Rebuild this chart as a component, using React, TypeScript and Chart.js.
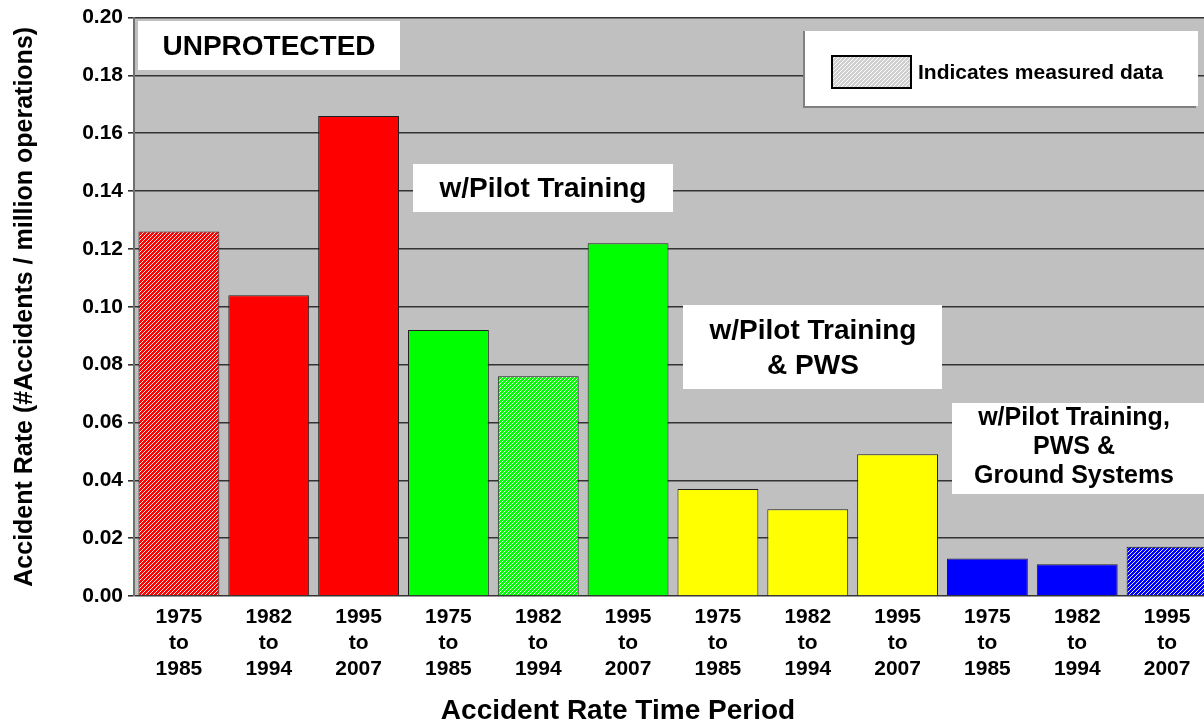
import React, { useEffect, useRef } from "react";
import { Chart, registerables } from "chart.js";

Chart.register(...registerables);

const periods: string[][] = [
  ["1975", "to", "1985"], ["1982", "to", "1994"], ["1995", "to", "2007"],
  ["1975", "to", "1985"], ["1982", "to", "1994"], ["1995", "to", "2007"],
  ["1975", "to", "1985"], ["1982", "to", "1994"], ["1995", "to", "2007"],
  ["1975", "to", "1985"], ["1982", "to", "1994"], ["1995", "to", "2007"],
];
const accidentRates = [0.126, 0.104, 0.166, 0.092, 0.076, 0.122, 0.037, 0.030, 0.049, 0.013, 0.011, 0.017];
const barColors = [
  "#ff0000", "#ff0000", "#ff0000",
  "#00ff00", "#00ff00", "#00ff00",
  "#ffff00", "#ffff00", "#ffff00",
  "#0000ff", "#0000ff", "#0000ff",
];
const measured = [true, false, false, false, true, false, false, false, false, false, false, true];
const yTicks = [0, 0.02, 0.04, 0.06, 0.08, 0.1, 0.12, 0.14, 0.16, 0.18, 0.2];
const xTitle = "Accident Rate Time Period";
const yTitle = "Accident Rate (#Accidents / million operations)";

const FONT = "'Liberation Sans', Arial, sans-serif";

function hatch(color: string): CanvasPattern | string {
  const c = document.createElement("canvas");
  c.width = 4;
  c.height = 4;
  const g = c.getContext("2d");
  if (!g) return color;
  g.fillStyle = color;
  g.fillRect(0, 0, 4, 4);
  g.strokeStyle = "rgba(255,255,255,0.9)";
  g.lineWidth = 1;
  g.beginPath();
  g.moveTo(0, 4); g.lineTo(4, 0);
  g.moveTo(-1, 1); g.lineTo(1, -1);
  g.moveTo(3, 5); g.lineTo(5, 3);
  g.stroke();
  const p = g.createPattern(c, "repeat");
  return p || color;
}

const decorPlugin = {
  id: "decor",
  beforeDraw(chart: any) {
    const { ctx, chartArea } = chart;
    ctx.save();
    ctx.fillStyle = "#c0c0c0";
    ctx.fillRect(chartArea.left, chartArea.top, chartArea.right - chartArea.left, chartArea.bottom - chartArea.top);
    ctx.restore();
  },
  beforeDatasetsDraw(chart: any) {
    const { ctx } = chart;
    const box = (x: number, y: number, w: number, h: number) => {
      ctx.fillStyle = "#ffffff";
      ctx.fillRect(x, y, w, h);
    };
    const lines = (arr: string[], cx: number, cy: number, size: number, lh: number) => {
      ctx.fillStyle = "#000";
      ctx.font = `bold ${size}px ${FONT}`;
      ctx.textAlign = "center";
      ctx.textBaseline = "middle";
      const start = cy - ((arr.length - 1) * lh) / 2;
      arr.forEach((t, i) => ctx.fillText(t, cx, start + i * lh));
    };
    ctx.save();
    box(138, 21, 262, 49);
    lines(["UNPROTECTED"], 269, 47, 28, 28);
    box(413, 164, 260, 48);
    lines(["w/Pilot Training"], 543, 189, 28, 28);
    box(683, 305, 259, 84);
    lines(["w/Pilot Training", "& PWS"], 813, 349, 28, 35);
    box(952, 403, 252, 91);
    lines(["w/Pilot Training,", "PWS &", "Ground Systems"], 1074, 447, 25, 29);
    // legend
    ctx.fillStyle = "#808080";
    ctx.fillRect(803, 31, 393, 77);
    box(805, 31, 393, 75);
    ctx.fillStyle = hatch("#d0d0d0");
    ctx.fillRect(832, 56, 79, 32);
    ctx.strokeStyle = "#000";
    ctx.lineWidth = 2;
    ctx.strokeRect(832, 56, 79, 32);
    ctx.fillStyle = "#000";
    ctx.font = `bold 21px ${FONT}`;
    ctx.textAlign = "left";
    ctx.textBaseline = "middle";
    ctx.fillText("Indicates measured data", 918, 73);
    // x-axis title
    ctx.font = `bold 28px ${FONT}`;
    ctx.textAlign = "center";
    ctx.fillText(xTitle, 618, 711);
    ctx.restore();
  },
};

export default function App() {
  const ref = useRef<HTMLCanvasElement | null>(null);
  useEffect(() => {
    const canvas = ref.current;
    if (!canvas) return;
    const fills = accidentRates.map((_, i) => (measured[i] ? hatch(barColors[i]) : barColors[i]));
    const chart = new Chart(canvas, {
      type: "bar",
      data: {
        labels: periods,
        datasets: [
          {
            data: accidentRates,
            backgroundColor: fills as any,
            borderColor: "#202020",
            borderWidth: 1,
            barPercentage: 0.9,
            categoryPercentage: 1,
          },
        ],
      },
      plugins: [decorPlugin],
      options: {
        responsive: false,
        animation: false,
        layout: { padding: { top: 1, left: 0, right: 0, bottom: 0 } },
        plugins: { legend: { display: false }, tooltip: { enabled: false } },
        scales: {
          x: {
            grid: { display: false },
            border: { display: false },
            ticks: {
              color: "#000",
              font: { family: FONT, size: 21, weight: "bold", lineHeight: 1.24 },
              padding: 0,
              maxRotation: 0,
              autoSkip: false,
            },
            afterFit: (s: any) => { s.height = 129; },
          },
          y: {
            min: 0,
            max: 0.2,
            afterBuildTicks: (s: any) => { s.ticks = yTicks.map((v) => ({ value: v })); },
            grid: { color: "#333333", lineWidth: 1.6, tickLength: 6, tickColor: "#333333" },
            border: { display: true, color: "#707070", width: 2 },
            ticks: {
              color: "#000",
              font: { family: FONT, size: 21, weight: "bold" },
              padding: 5,
              callback: (v: any) => Number(v).toFixed(2),
            },
            title: {
              display: true,
              text: yTitle,
              color: "#000",
              font: { family: FONT, size: 25, weight: "bold" },
              padding: { top: 10, bottom: 4 },
            },
            afterFit: (s: any) => { s.width = 134; },
          },
        },
      },
    });
    return () => chart.destroy();
  }, []);
  return (
    <div style={{ position: "fixed", left: 0, top: 0, width: 1204, height: 725, overflow: "hidden", background: "#fff" }}>
      <canvas ref={ref} width={1212} height={725} style={{ width: 1212, height: 725, display: "block" }} />
    </div>
  );
}
